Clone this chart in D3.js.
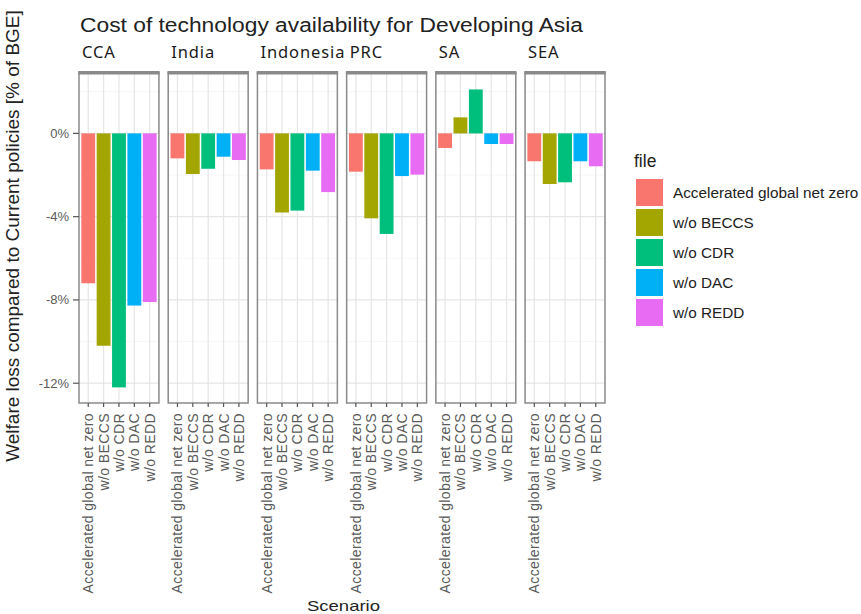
<!DOCTYPE html>
<html>
<head>
<meta charset="utf-8">
<script src="https://cdn.jsdelivr.net/npm/d3@7"></script>
<style>
  body { margin: 0; background: #fff; }
  svg { display: block; }
</style>
</head>
<body>
<svg width="861" height="614"></svg>
<script>
// data (% of BGE)
const regions = ['CCA', 'India', 'Indonesia', 'PRC', 'SA', 'SEA'];
const scenarios = ['Accelerated global net zero', 'w/o BECCS', 'w/o CDR', 'w/o DAC', 'w/o REDD'];
const colours = ['#F8766D', '#A3A500', '#00BF7D', '#00B0F6', '#E76BF3'];
const valCCA = [-7.2, -10.2, -12.2, -8.27, -8.1];
const valIndia = [-1.2, -1.95, -1.7, -1.12, -1.28];
const valIndonesia = [-1.73, -3.8, -3.71, -1.79, -2.82];
const valPRC = [-1.84, -4.08, -4.83, -2.05, -1.98];
const valSA = [-0.7, 0.77, 2.11, -0.51, -0.51];
const valSEA = [-1.34, -2.43, -2.35, -1.34, -1.58];
const values = [valCCA, valIndia, valIndonesia, valPRC, valSA, valSEA];
const yTicks = [0, -4, -8, -12];
const yMinor = [2, -2, -6, -10];

const svg = d3.select('svg');
const panelTop = 73, panelBottom = 403;
const sans = 'Liberation Sans, Arial, sans-serif';

const fx = d3.scaleBand().domain(regions).range([79, 605]).paddingInner(0.104);
const x = d3.scaleLinear().domain([0.4, 5.6]).range([0, fx.bandwidth()]);
const y = d3.scaleLinear().domain([2.9, -12.95]).range([panelTop, panelBottom]);
const colour = d3.scaleOrdinal().domain(scenarios).range(colours);

// title
svg.append('text')
  .attr('x', 80).attr('y', 32)
  .attr('font-family', sans)
  .attr('font-size', 19.5)
  .attr('textLength', 503)
  .attr('lengthAdjust', 'spacingAndGlyphs')
  .attr('fill', '#222')
  .text('Cost of technology availability for Developing Asia');

// panels
regions.forEach((r, k) => {
  const g = svg.append('g').attr('transform', `translate(${fx(r)},0)`);
  const w = fx.bandwidth();

  g.append('rect').attr('x', 0).attr('y', panelTop).attr('width', w).attr('height', panelBottom - panelTop)
    .attr('fill', '#fff');

  // grid
  g.selectAll('.minor').data(yMinor).join('line')
    .attr('x1', 0).attr('x2', w)
    .attr('y1', d => y(d)).attr('y2', d => y(d))
    .attr('stroke', '#f2f2f2').attr('stroke-width', 0.7);
  g.selectAll('.major').data(yTicks).join('line')
    .attr('x1', 0).attr('x2', w)
    .attr('y1', d => y(d)).attr('y2', d => y(d))
    .attr('stroke', '#e6e6e6').attr('stroke-width', 1.2);
  g.selectAll('.vgrid').data(scenarios).join('line')
    .attr('x1', (d, i) => x(i + 1)).attr('x2', (d, i) => x(i + 1))
    .attr('y1', panelTop).attr('y2', panelBottom)
    .attr('stroke', '#e6e6e6').attr('stroke-width', 1.2);

  // bars
  g.selectAll('.bar').data(values[k]).join('rect')
    .attr('x', (d, i) => x(i + 1 - 0.45))
    .attr('width', x(0.9) - x(0))
    .attr('y', d => y(Math.max(0, d)))
    .attr('height', d => Math.abs(y(d) - y(0)))
    .attr('fill', (d, i) => colour(scenarios[i]));

  // border + strip
  g.append('rect').attr('x', 0).attr('y', panelTop).attr('width', w).attr('height', panelBottom - panelTop)
    .attr('fill', 'none').attr('stroke', '#8a8a8a').attr('stroke-width', 1.5);
  g.append('rect').attr('x', -0.75).attr('y', panelTop - 2).attr('width', w + 1.5).attr('height', 3.5)
    .attr('fill', '#8a8a8a');
  g.append('text')
    .attr('x', 3).attr('y', 58)
    .attr('font-family', 'Noto Sans, sans-serif')
    .attr('font-size', 16.5)
    .attr('letter-spacing', 0.9)
    .attr('fill', '#1a1a1a')
    .text(r);

  // x axis
  const xa = g.append('g').attr('transform', `translate(0,${panelBottom})`);
  xa.selectAll('line').data(scenarios).join('line')
    .attr('x1', (d, i) => x(i + 1)).attr('x2', (d, i) => x(i + 1))
    .attr('y1', 0).attr('y2', 4)
    .attr('stroke', '#555').attr('stroke-width', 1.2);
  xa.selectAll('text').data(scenarios).join('text')
    .attr('transform', (d, i) => `translate(${x(i + 1) + 5},10) rotate(-90)`)
    .attr('text-anchor', 'end')
    .attr('font-family', sans)
    .attr('font-size', 14)
    .attr('letter-spacing', 0.4)
    .attr('fill', '#5a5a5a')
    .text(d => d);
});

// y axis
const ya = svg.append('g').attr('transform', `translate(${fx(regions[0])},0)`);
ya.selectAll('line').data(yTicks).join('line')
  .attr('x1', -6).attr('x2', 0)
  .attr('y1', d => y(d)).attr('y2', d => y(d))
  .attr('stroke', '#555').attr('stroke-width', 1.2);
ya.selectAll('text').data(yTicks).join('text')
  .attr('x', -10).attr('y', d => y(d)).attr('dy', '0.35em')
  .attr('text-anchor', 'end')
  .attr('font-family', sans)
  .attr('font-size', 13)
  .attr('fill', '#5a5a5a')
  .text(d => d + '%');

// axis titles
svg.append('text')
  .attr('transform', `translate(19,236) rotate(-90)`)
  .attr('text-anchor', 'middle')
  .attr('font-family', sans)
  .attr('font-size', 19)
  .attr('fill', '#222')
  .text('Welfare loss compared to Current policies [% of BGE]');
svg.append('text')
  .attr('x', 307).attr('y', 611)
  .attr('font-family', sans)
  .attr('font-size', 15)
  .attr('textLength', 73)
  .attr('lengthAdjust', 'spacingAndGlyphs')
  .attr('fill', '#222')
  .text('Scenario');

// legend
const lg = svg.append('g').attr('transform', 'translate(636,0)');
lg.append('text')
  .attr('x', -2).attr('y', 167)
  .attr('font-family', sans)
  .attr('font-size', 17.5)
  .attr('fill', '#222')
  .text('file');
const items = lg.selectAll('.item').data(scenarios).join('g')
  .attr('transform', (d, i) => `translate(0,${179 + i * 30})`);
items.append('rect')
  .attr('width', 27).attr('height', 27)
  .attr('fill', d => colour(d));
items.append('text')
  .attr('x', 37).attr('y', 14).attr('dy', '0.35em')
  .attr('font-family', sans)
  .attr('font-size', 15.3)
  .attr('fill', '#222')
  .text(d => d);
</script>
</body>
</html>
